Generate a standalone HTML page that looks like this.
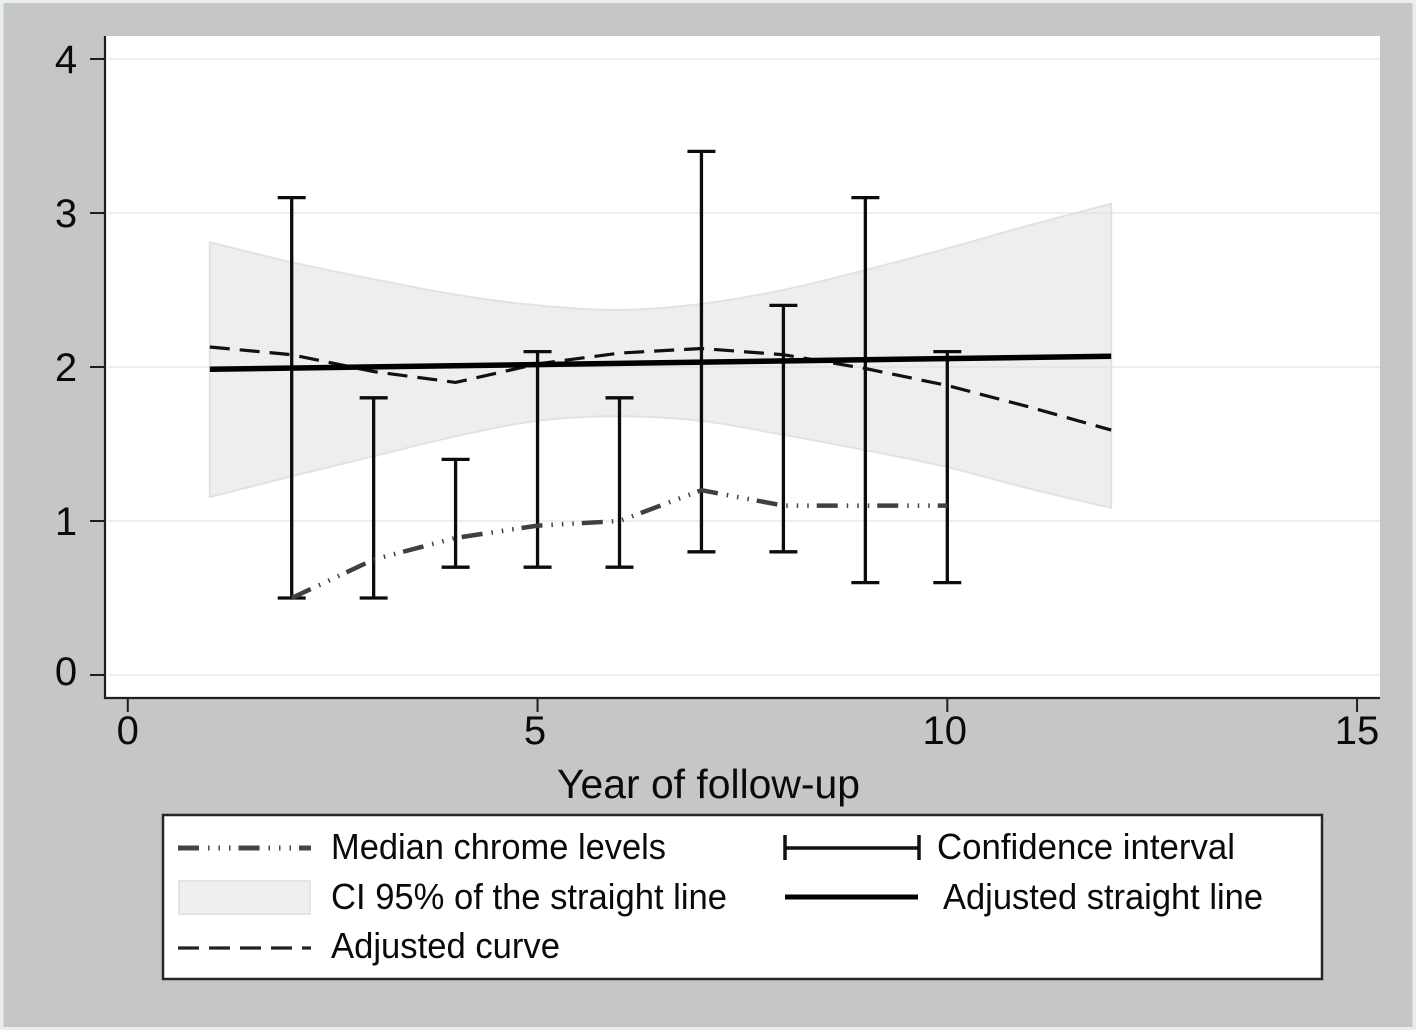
<!DOCTYPE html>
<html>
<head>
<meta charset="utf-8">
<title>Median chrome levels by year of follow-up</title>
<style>
html,body{margin:0;padding:0;background:#e8eeee;}
svg{display:block;}
text{font-family:"Liberation Sans",sans-serif;fill:#0a0a0a;}
</style>
</head>
<body>
<svg id="chart" xmlns="http://www.w3.org/2000/svg" width="1416" height="1030" viewBox="0 0 1416 1030">
  <rect x="3.5" y="3" width="1409" height="1024" fill="#c6c6c6"/>
  <rect x="105" y="36" width="1275" height="662" fill="#ffffff"/>
  <g id="grid"></g>
  <g id="marks"></g>
  <g id="axes"></g>
  <text x="557" y="798" font-size="41" textLength="303" lengthAdjust="spacingAndGlyphs">Year of follow-up</text>

  <g>
    <rect x="163" y="815" width="1159" height="164" fill="#ffffff" stroke="#262626" stroke-width="2.5"/>
    <line x1="178" y1="848" x2="311" y2="848" stroke="#444444" stroke-width="5" stroke-dasharray="21 9 1.5 9 1.5 9 1.5 8"/>
    <text x="331" y="859" font-size="36" textLength="335" lengthAdjust="spacingAndGlyphs">Median chrome levels</text>
    <rect x="179" y="881" width="131" height="33" fill="#efefef" stroke="#e4e4e4" stroke-width="2"/>
    <text x="331" y="909" font-size="36" textLength="396" lengthAdjust="spacingAndGlyphs">CI 95% of the straight line</text>
    <line x1="178" y1="948" x2="311" y2="948" stroke="#222222" stroke-width="3.2" stroke-dasharray="21 10"/>
    <text x="331" y="958" font-size="36" textLength="229" lengthAdjust="spacingAndGlyphs">Adjusted curve</text>
    <g stroke="#111111">
      <line x1="785" y1="848" x2="919" y2="848" stroke-width="3.5"/>
      <line x1="785" y1="835" x2="785" y2="860" stroke-width="3.5"/>
      <line x1="919" y1="835" x2="919" y2="860" stroke-width="3.5"/>
    </g>
    <text x="937" y="859" font-size="36" textLength="298" lengthAdjust="spacingAndGlyphs">Confidence interval</text>
    <line x1="785" y1="897" x2="918" y2="897" stroke="#000000" stroke-width="5"/>
    <text x="943" y="909" font-size="36" textLength="320" lengthAdjust="spacingAndGlyphs">Adjusted straight line</text>
  </g>
</svg>
<script>
// Chart data
var xTicks = [0, 5, 10, 15];
var yTicks = [0, 1, 2, 3, 4];
var bandYears = [1, 2, 3, 4, 5, 6, 7, 8, 9, 10, 11, 12];
var bandUpper = [2.81, 2.68, 2.57, 2.47, 2.40, 2.37, 2.41, 2.50, 2.63, 2.77, 2.92, 3.06];
var bandLower = [1.155, 1.29, 1.42, 1.55, 1.65, 1.68, 1.65, 1.56, 1.46, 1.35, 1.21, 1.085];
var curveValues = [2.13, 2.08, 1.97, 1.90, 2.02, 2.09, 2.12, 2.08, 1.99, 1.88, 1.74, 1.59];
var straightYears = [1, 12];
var straightValues = [1.985, 2.07];
var medianYears = [2, 3, 4, 5, 6, 7, 8, 9, 10];
var medianValues = [0.5, 0.75, 0.89, 0.97, 1.0, 1.2, 1.1, 1.1, 1.1];
var ciLow = [0.5, 0.5, 0.7, 0.7, 0.7, 0.8, 0.8, 0.6, 0.6];
var ciHigh = [3.1, 1.8, 1.4, 2.1, 1.8, 3.4, 2.4, 3.1, 2.1];

function xScale(v) { return 127.8 + v * 81.95; }
function yScale(v) { return 675 - v * 154; }

var NS = 'http://www.w3.org/2000/svg';
function make(parent, tag, attrs) {
  var el = document.createElementNS(NS, tag);
  for (var k in attrs) { el.setAttribute(k, attrs[k]); }
  parent.appendChild(el);
  return el;
}
function pts(xs, ys) {
  return xs.map(function (x, i) { return xScale(x).toFixed(1) + ',' + yScale(ys[i]).toFixed(1); });
}
// Smooth pass through the data points (Catmull-Rom converted to cubic beziers)
function smooth(xs, ys) {
  var p = xs.map(function (x, i) { return [xScale(x), yScale(ys[i])]; });
  var d = '';
  for (var i = 0; i < p.length - 1; i++) {
    var p0 = p[Math.max(i - 1, 0)];
    var p1 = p[i];
    var p2 = p[i + 1];
    var p3 = p[Math.min(i + 2, p.length - 1)];
    var c1x = p1[0] + (p2[0] - p0[0]) / 6;
    var c1y = p1[1] + (p2[1] - p0[1]) / 6;
    var c2x = p2[0] - (p3[0] - p1[0]) / 6;
    var c2y = p2[1] - (p3[1] - p1[1]) / 6;
    d += ' C' + c1x.toFixed(1) + ' ' + c1y.toFixed(1) + ' ' + c2x.toFixed(1) + ' ' + c2y.toFixed(1) + ' ' + p2[0].toFixed(1) + ' ' + p2[1].toFixed(1);
  }
  return d;
}

var gridG = document.getElementById('grid');
var marksG = document.getElementById('marks');
var axesG = document.getElementById('axes');

yTicks.forEach(function (t) {
  var g = make(gridG, 'line', { x1: 108, x2: 1380, y1: yScale(t), y2: yScale(t), stroke: '#e9f0f0', 'stroke-width': 2 });
  
  
});

var revYears = bandYears.slice().reverse();
var revLower = bandLower.slice().reverse();
var bandPath = 'M' + xScale(bandYears[0]).toFixed(1) + ' ' + yScale(bandUpper[0]).toFixed(1)
  + smooth(bandYears, bandUpper)
  + ' L' + xScale(revYears[0]).toFixed(1) + ' ' + yScale(revLower[0]).toFixed(1)
  + smooth(revYears, revLower) + ' Z';
var band = make(marksG, 'path', { d: bandPath, fill: '#d9d9d9', 'fill-opacity': 0.45, stroke: '#e2e2e2', 'stroke-width': 2 });



medianYears.forEach(function (yr, i) {
  var px = xScale(yr);
  var top = yScale(ciHigh[i]);
  var bot = yScale(ciLow[i]);
  var stem = make(marksG, 'line', { x1: px, x2: px, y1: top, y2: bot, stroke: '#0c0c0c', 'stroke-width': 3.3 });
  
  
  var capT = make(marksG, 'line', { x1: px - 14, x2: px + 14, y1: top, y2: top, stroke: '#0c0c0c', 'stroke-width': 3.3 });
  
  
  var capB = make(marksG, 'line', { x1: px - 14, x2: px + 14, y1: bot, y2: bot, stroke: '#0c0c0c', 'stroke-width': 3.3 });
  
  
});

var median = make(marksG, 'polyline', { points: pts(medianYears, medianValues).join(' '), fill: 'none', stroke: '#404040', 'stroke-width': 4.5, 'stroke-dasharray': '21 9 1.5 9 1.5 9 1.5 8' });



var curve = make(marksG, 'polyline', { points: pts(bandYears, curveValues).join(' '), fill: 'none', stroke: '#111111', 'stroke-width': 3.2, 'stroke-dasharray': '20 10' });



var straight = make(marksG, 'polyline', { points: pts(straightYears, straightValues).join(' '), fill: 'none', stroke: '#000000', 'stroke-width': 5.5 });



var yAxis = make(axesG, 'line', { x1: 105, x2: 105, y1: 36, y2: 699, stroke: '#1e1e1e', 'stroke-width': 2.2 });


var xAxis = make(axesG, 'line', { x1: 104, x2: 1380, y1: 698, y2: 698, stroke: '#1e1e1e', 'stroke-width': 2.2 });



yTicks.forEach(function (t) {
  var py = yScale(t);
  var tick = make(axesG, 'line', { x1: 90, x2: 105, y1: py, y2: py, stroke: '#1e1e1e', 'stroke-width': 2 });
  
  
  var label = make(axesG, 'text', { x: 66, y: py + 14 - (t === 0 ? 4 : 0), 'font-size': 40, 'text-anchor': 'middle' });
  label.textContent = String(t);
  
  
});

xTicks.forEach(function (t) {
  var px = xScale(t);
  var tick = make(axesG, 'line', { x1: px, x2: px, y1: 698, y2: 712, stroke: '#1e1e1e', 'stroke-width': 2 });
  
  
  var label = make(axesG, 'text', { x: px - (t === 5 || t === 10 ? 2.5 : 0), y: 744, 'font-size': 40, 'text-anchor': 'middle' });
  label.textContent = String(t);
  
  
});
</script>
</body>
</html>
